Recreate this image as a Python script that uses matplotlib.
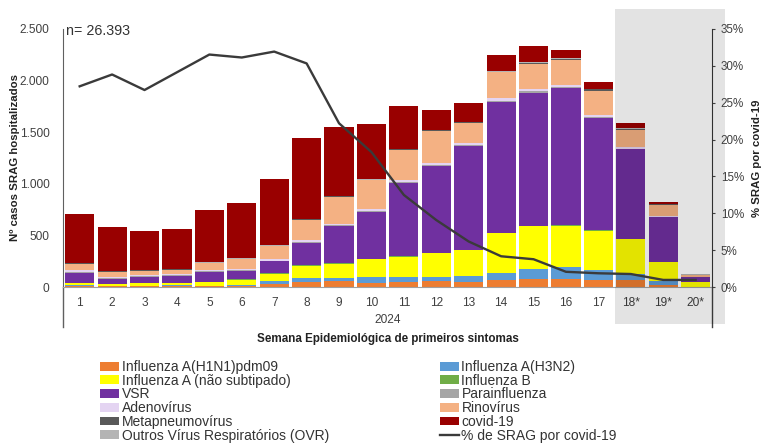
from matplotlib import pyplot as plt
from matplotlib.patches import Rectangle
from matplotlib.lines import Line2D
from matplotlib.ticker import FuncFormatter
import matplotlib.transforms as mtransforms

plt.rcParams['font.family'] = ['Liberation Sans', 'DejaVu Sans']

# =============================================================================
# Data (SRAG hospitalizados por semana epidemiologica)
# =============================================================================
semanas = ['1', '2', '3', '4', '5', '6', '7', '8', '9', '10', '11', '12', '13',
           '14', '15', '16', '17', '18*', '19*', '20*']

h1n1 = [8, 8, 8, 10, 8, 12, 32, 52, 64, 42, 54, 58, 55, 74, 81, 81, 67, 67, 26, 4]
h3n2 = [10, 6, 6, 8, 8, 10, 32, 39, 26, 58, 48, 42, 51, 64, 96, 116, 96, 64, 32, 3]
infa = [19, 19, 26, 26, 35, 51, 67, 118, 138, 173, 193, 231, 250, 385, 417, 398, 385, 334, 187, 42]
infb = [2, 2, 2, 2, 2, 5, 3, 3, 3, 3, 3, 3, 3, 3, 3, 3, 3, 3, 2, 1]
vsr = [96, 45, 58, 64, 99, 80, 118, 218, 359, 453, 707, 841, 1011, 1261, 1284, 1326, 1088, 867, 433, 48]
para = [12, 6, 6, 6, 6, 6, 6, 8, 8, 8, 10, 8, 8, 12, 13, 10, 8, 6, 4, 2]
adeno = [18, 12, 10, 10, 10, 10, 18, 20, 18, 16, 24, 14, 18, 28, 22, 18, 20, 12, 10, 2]
rino = [64, 54, 45, 45, 64, 99, 121, 190, 256, 282, 289, 318, 193, 250, 247, 244, 234, 170, 105, 20]
meta = [6, 5, 4, 4, 6, 5, 6, 8, 6, 6, 6, 6, 6, 8, 8, 13, 14, 10, 4, 1]
ovr = [3, 3, 2, 2, 3, 3, 3, 4, 4, 4, 4, 4, 4, 4, 4, 4, 4, 3, 2, 1]
covid = [475, 420, 376, 390, 503, 535, 640, 785, 670, 535, 410, 190, 185, 160, 155, 85, 64, 50, 17, 0]

pct_covid = [27.2, 28.8, 26.7, 29.1, 31.5, 31.1, 31.9, 30.3, 22.2, 18.3, 12.5, 9.1,
             6.2, 4.2, 3.8, 2.1, 1.9, 1.8, 1.0, 1.0]

series = [
    ('Influenza A(H1N1)pdm09', h1n1, '#ed7d31'),
    ('Influenza A(H3N2)', h3n2, '#5b9bd5'),
    ('Influenza A (não subtipado)', infa, '#ffff00'),
    ('Influenza B', infb, '#70ad47'),
    ('VSR', vsr, '#7030a0'),
    ('Parainfluenza', para, '#a5a5a5'),
    ('Adenovírus', adeno, '#e4d4f2'),
    ('Rinovírus', rino, '#f4b183'),
    ('Metapneumovírus', meta, '#595959'),
    ('Outros Vírus Respiratórios (OVR)', ovr, '#b4b4b4'),
    ('covid-19', covid, '#990000'),
]

txt = '#404040'

# =============================================================================
# Figure
# =============================================================================
fig = plt.figure(figsize=(7.61, 4.44), dpi=100)
ax = fig.add_axes([0.0834, 0.3529, 0.852, 0.5825])

x = list(range(1, len(semanas) + 1))
bottom = [0] * len(x)
handles = {}
for name, vals, col in series:
    b = ax.bar(x, vals, width=0.9, bottom=bottom, color=col, edgecolor='none', zorder=2)
    handles[name] = b
    bottom = [bo + v for bo, v in zip(bottom, vals)]

ax.set_xlim(0.5, 20.5)
ax.set_ylim(0, 2500)
ax.set_yticks([0, 500, 1000, 1500, 2000, 2500])
ax.yaxis.set_major_formatter(FuncFormatter(lambda v, p: f'{int(v):,}'.replace(',', '.')))
ax.set_xticks(x)
ax.set_xticklabels(semanas)
ax.tick_params(axis='y', length=0, pad=10, labelsize=8.6, labelcolor=txt)
ax.tick_params(axis='x', length=0, pad=7, labelsize=8.6, labelcolor=txt)
for s in ['top', 'right']:
    ax.spines[s].set_visible(False)
ax.spines['left'].set_color('#606060')
ax.spines['bottom'].set_color('#a0a0a0')

ax.set_ylabel('Nº casos SRAG hospitalizados', fontsize=8.2, fontweight='bold', color='#222222')
ax.yaxis.set_label_coords(-0.0668, 0.5)

# separators of the category axis and the year
ax.add_line(Line2D([0, 0], [0, -0.153], transform=ax.transAxes, color='#606060', lw=1, clip_on=False))
ax.add_line(Line2D([1, 1], [0, -0.153], transform=ax.transAxes, color='#404040', lw=1, clip_on=False))
ax.text(0.5, -0.126, '2024', transform=ax.transAxes, ha='center', va='center', fontsize=8.6, color=txt)
ax.text(0.5, -0.2, 'Semana Epidemiológica de primeiros sintomas', transform=ax.transAxes,
        ha='center', va='center', fontsize=8.4, fontweight='bold', color='#222222')

ax.text(0.004, 0.99, 'n= 26.393', transform=ax.transAxes, ha='left', va='center',
        fontsize=10.3, color='#333333')

# shaded area for preliminary weeks
trans = mtransforms.blended_transform_factory(ax.transData, ax.transAxes)
ax.add_patch(Rectangle((17.5, -0.1417), 3.41, 1.2162, transform=trans, color='black',
                       alpha=0.11, lw=0, clip_on=False, zorder=3))

# =============================================================================
# % covid line, right axis
# =============================================================================
ax2 = ax.twinx()
ln, = ax2.plot(x, pct_covid, color='#3a3a3a', lw=1.7)
ax2.set_ylim(0, 35)
ax2.set_yticks(range(0, 36, 5))
ax2.yaxis.set_major_formatter(FuncFormatter(lambda v, p: f'{int(v)}%'))
ax2.tick_params(axis='y', length=2.5, direction='out', pad=4, labelsize=8.4, labelcolor=txt, color='#404040')
for s in ['top', 'left', 'bottom']:
    ax2.spines[s].set_visible(False)
ax2.spines['right'].set_color('#303030')
ax2.spines['right'].set_bounds(0, 35)
ax2.set_ylabel('% SRAG por covid-19', fontsize=8.2, fontweight='bold', color='#222222')
ax2.yaxis.set_label_coords(1.0617, 0.5)

# =============================================================================
# Legend (row-wise order, two columns)
# =============================================================================
left_col = ['Influenza A(H1N1)pdm09', 'Influenza A (não subtipado)', 'VSR', 'Adenovírus',
            'Metapneumovírus', 'Outros Vírus Respiratórios (OVR)']
right_col = ['Influenza A(H3N2)', 'Influenza B', 'Parainfluenza', 'Rinovírus', 'covid-19']
hs = [handles[n] for n in left_col] + [handles[n] for n in right_col] + [ln]
ls = left_col + right_col + ['% de SRAG por covid-19']
fig.legend(hs, ls, loc='upper left', bbox_to_anchor=(100 / 761, 1 - 360 / 444), ncol=2,
           frameon=False, fontsize=10, handlelength=1.35, handleheight=0.6, handletextpad=0.2,
           labelspacing=-0.02, columnspacing=8.0, borderpad=0, borderaxespad=0, labelcolor='#333333')

plt.savefig('out.png', dpi=100)
